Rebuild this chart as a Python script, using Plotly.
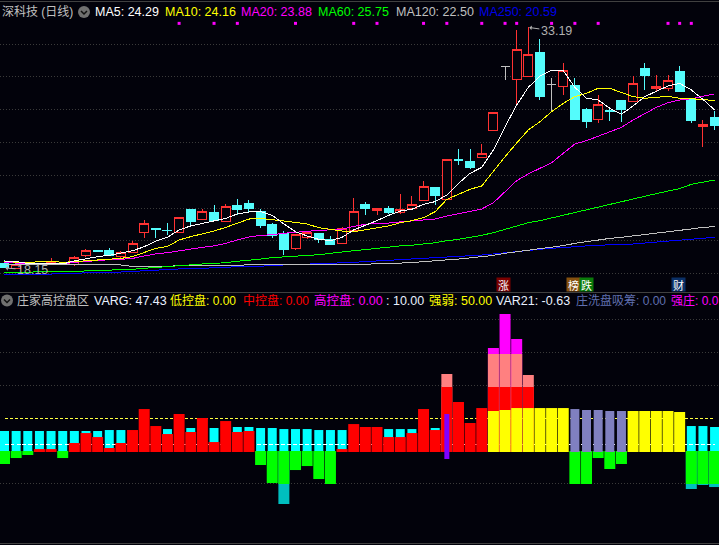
import plotly.graph_objects as go

# 画面尺寸
W = 719
H = 545
BG = '#02020b'

# ---------- 主图 K 线 ----------
OPEN = [18.46, 18.12, 18.40, 18.40, 18.46, 18.34, 18.38, 18.92, 19.25, 19.27, 18.86, 19.13, 20.38, 20.60, 20.52,
        20.36, 21.82, 21.17, 21.65, 21.05, 22.03, 22.21, 21.71, 20.84, 20.28, 19.36, 20.07, 20.28, 19.94, 19.71,
        20.48, 22.15, 21.73, 21.90, 21.65, 21.84, 22.40, 23.21, 22.46, 24.94, 24.78, 25.04, 26.73, 30.73, 29.94,
        30.11, 31.59, 29.59, 29.48, 29.53, 28.03, 27.44, 28.01, 28.59, 28.57, 30.59, 29.36, 29.36, 30.46, 28.67,
        26.98, 27.53]
HIGH = [18.65, 18.40, 18.52, 18.46, 18.78, 18.46, 18.90, 19.34, 19.27, 19.38, 19.21, 19.86, 21.15, 20.60, 20.98,
        21.32, 21.82, 21.84, 22.09, 22.15, 22.46, 22.40, 21.84, 20.96, 20.46, 20.30, 20.42, 20.34, 20.15, 20.69,
        22.53, 22.28, 21.88, 22.03, 22.78, 22.65, 23.59, 23.21, 24.96, 25.57, 25.57, 25.90, 27.88, 30.73, 33.03,
        33.19, 32.44, 30.01, 30.94, 30.01, 28.15, 28.94, 28.19, 28.59, 30.15, 30.96, 30.21, 30.21, 30.78, 28.76,
        27.40, 27.96]
LOW = [18.15, 18.10, 18.34, 18.40, 18.46, 18.34, 18.30, 18.86, 19.13, 18.90, 18.80, 19.07, 20.04, 20.04, 20.21,
       20.36, 20.73, 21.15, 21.07, 21.03, 21.44, 21.61, 20.65, 20.04, 18.96, 19.30, 19.94, 19.71, 19.65, 19.65,
       20.46, 21.48, 21.46, 21.55, 21.55, 21.79, 22.34, 22.09, 22.40, 24.61, 24.34, 25.04, 26.73, 29.90, 28.28,
       30.11, 28.65, 27.92, 28.96, 27.46, 26.90, 27.23, 27.32, 27.28, 28.54, 29.28, 29.17, 29.23, 29.15, 27.21,
       25.73, 26.78]
CLOSE = [18.21, 18.40, 18.46, 18.46, 18.52, 18.46, 18.82, 19.25, 19.21, 18.94, 19.13, 19.69, 20.94, 20.56, 20.48,
         21.32, 21.05, 21.71, 21.11, 22.00, 21.78, 21.90, 20.78, 20.19, 19.28, 20.25, 20.38, 19.94, 19.65, 20.63,
         21.71, 21.84, 21.88, 21.59, 21.82, 22.15, 23.27, 22.67, 24.96, 24.84, 24.46, 25.32, 27.88, 30.73, 31.82,
         31.51, 28.90, 29.59, 30.51, 27.46, 27.28, 28.38, 27.93, 28.03, 29.69, 30.21, 29.51, 29.88, 29.21, 27.36,
         27.15, 27.03]
DAYS = list(range(len(OPEN)))

MA5 = [18.59, 18.55, 18.44, 18.44, 18.42, 18.40, 18.59, 18.73, 18.86, 18.94, 19.07, 19.23, 19.48, 19.84, 20.07,
       20.53, 20.78, 20.94, 21.09, 21.25, 21.53, 21.65, 21.67, 21.44, 20.90, 20.42, 20.15, 19.94, 19.86, 20.07,
       20.53, 20.80, 21.11, 21.44, 21.71, 21.82, 22.13, 22.30, 22.71, 23.44, 24.07, 24.44, 25.53, 26.98, 28.34,
       29.44, 30.15, 30.51, 30.48, 29.44, 28.76, 28.65, 28.13, 27.76, 28.28, 28.86, 29.17, 29.53, 29.69, 29.28,
       28.69, 28.03]
MA10 = [18.55, 18.50, 18.48, 18.55, 18.57, 18.50, 18.55, 18.59, 18.65, 18.69, 18.75, 18.86, 19.11, 19.38, 19.50,
        19.90, 20.11, 20.28, 20.46, 20.69, 20.94, 21.21, 21.25, 21.15, 21.09, 21.00, 20.90, 20.67, 20.55, 20.46,
        20.42, 20.53, 20.65, 20.78, 20.98, 21.11, 21.30, 21.67, 22.44, 22.75, 23.07, 23.28, 24.23, 25.11, 25.96,
        26.78, 27.29, 27.92, 28.44, 28.86, 29.07, 29.38, 29.38, 29.11, 28.86, 28.76, 28.84, 28.88, 28.76, 28.73,
        28.69, 28.59]
MA20 = [18.48, 18.48, 18.44, 18.42, 18.42, 18.42, 18.50, 18.57, 18.63, 18.67, 18.69, 18.75, 18.90, 19.03, 19.11,
        19.23, 19.34, 19.44, 19.53, 19.69, 19.90, 20.09, 20.19, 20.23, 20.32, 20.36, 20.44, 20.50, 20.53, 20.57,
        20.75, 20.88, 20.94, 20.96, 21.03, 21.09, 21.17, 21.21, 21.40, 21.53, 21.69, 21.84, 22.23, 22.92, 23.61,
        24.03, 24.38, 24.73, 25.32, 25.90, 26.11, 26.40, 26.67, 26.94, 27.40, 27.82, 28.19, 28.48, 28.65, 28.73,
        28.90, 29.03]
MA60 = [17.88, 17.88, 17.88, 17.90, 17.90, 17.92, 17.94, 17.96, 18.00, 18.00, 18.02, 18.07, 18.13, 18.19, 18.21,
        18.27, 18.34, 18.40, 18.44, 18.48, 18.57, 18.63, 18.71, 18.80, 18.84, 18.86, 18.92, 18.98, 19.07, 19.13,
        19.23, 19.30, 19.38, 19.46, 19.53, 19.57, 19.63, 19.73, 19.86, 19.94, 20.07, 20.19, 20.36, 20.57, 20.78,
        20.98, 21.11, 21.28, 21.46, 21.65, 21.82, 21.98, 22.15, 22.30, 22.48, 22.63, 22.80, 22.96, 23.11, 23.38,
        23.53, 23.65]
MA120 = [18.40, 18.40, 18.40, 18.40, 18.40, 18.36, 18.34, 18.34, 18.34, 18.34, 18.34, 18.25, 18.25, 18.25, 18.25,
         18.30, 18.30, 18.30, 18.30, 18.30, 18.30, 18.36, 18.36, 18.36, 18.36, 18.38, 18.38, 18.38, 18.38, 18.38,
         18.40, 18.38, 18.42, 18.44, 18.48, 18.48, 18.55, 18.59, 18.63, 18.71, 18.78, 18.84, 18.94, 19.07, 19.17,
         19.28, 19.36, 19.44, 19.55, 19.69, 19.80, 19.92, 20.00, 20.07, 20.15, 20.25, 20.34, 20.42, 20.50, 20.59,
         20.69, 20.73]
MA250 = [17.73, 17.73, 17.75, 17.75, 17.77, 17.82, 17.82, 17.82, 17.84, 17.86, 17.90, 17.94, 17.96, 18.00, 18.07,
         18.09, 18.13, 18.13, 18.17, 18.21, 18.23, 18.23, 18.25, 18.30, 18.34, 18.36, 18.38, 18.40, 18.44, 18.48,
         18.50, 18.55, 18.59, 18.61, 18.65, 18.69, 18.75, 18.78, 18.84, 18.88, 18.92, 18.96, 19.03, 19.11, 19.17,
         19.25, 19.32, 19.38, 19.44, 19.48, 19.53, 19.57, 19.59, 19.61, 19.65, 19.71, 19.77, 19.84, 19.88, 19.94,
         20.00, 20.07]

SIGNAL_DAYS = [15, 18, 20, 25, 30, 32, 36, 38, 41, 43, 44, 47, 49, 51, 57, 58, 59]
SIGNAL_PRICE = 33.44
PRICE_GRID = [32.15, 30.10, 28.05, 26.00, 23.95, 21.90, 19.85, 17.80]

# ---------- 副图 柱子, None 表示当天没有 ----------
N = None
CYAN_BAR = [30.5, 30.5, 30.5, 30.5, 30.5, 30.5, 30.5, 30.5, 30.5, 32.0, 32.0, N, N, N, 33.5,
            N, 35.1, N, 35.1, N, 36.6, 36.6, 35.1, 35.1, 33.5, 33.5, 33.5, 32.0, 32.0, 32.0,
            N, N, N, 33.5, 33.5, 33.5, N, 35.1, N, N, N, N, N, N, N,
            N, N, N, N, N, N, N, N, N, N, N, N, N, N, 38.1,
            38.1, 36.6]
GREEN_BAR = [-19.8, -10.7, -6.1, N, N, -10.7, N, N, N, N, N, N, N, N, N,
             N, N, N, N, N, N, N, -21.3, -48.8, -50.3, -29.0, -22.9, -42.7, -50.3, N,
             N, N, N, N, N, N, N, N, N, N, N, N, N, N, N,
             N, N, N, N, -50.3, -50.3, -10.7, -27.4, -19.8, N, N, N, N, N, -50.3,
             -50.3, -50.3]
TEAL_DAYS = [24, 59, 60, 61]
TEAL_BAR = [-80.8, -57.9, -51.8, -54.9]
RED_BAR = [N, N, N, 3.0, 3.0, N, 12.2, 27.4, 21.3, 4.6, 12.2, 32.0, 64.0, 38.1, 25.9,
           56.4, 29.0, 50.3, 13.7, 45.7, 29.0, 30.5, N, N, N, N, N, N, N, 3.0,
           41.1, 36.6, 36.6, 21.3, 21.3, 27.4, 64.0, 32.0, 97.6, 74.7, 42.7, 65.5, 97.6, 97.6, 97.6,
           97.6, N, N, N, N, N, N, N, N, N, N, N, N, N, N,
           N, N]
PINK_DAYS = [38, 42, 43, 44, 45]
PINK_BAR = [117.4, 147.9, 147.9, 147.9, 115.9]
MAGENTA_DAYS = [42, 43, 44]
MAGENTA_BAR = [157.0, 208.8, 170.7]
YELLOW_DAYS = [42, 43, 44, 45, 46, 47, 48, 54, 55, 56, 57, 58]
YELLOW_BAR = [61.0, 62.5, 65.5, 65.5, 65.5, 65.5, 65.5, 61.0, 61.0, 61.0, 61.0, 59.5]
SLATE_DAYS = [49, 50, 51, 52, 53]
SLATE_BAR = [64.0, 62.5, 62.5, 61.0, 61.0]
PURPLE_DAY = [38]
PURPLE_TOP = [56.4]
PURPLE_BOTTOM = -12.2
BAR_FLOOR = -1.5
LEVEL_STRONG = 50
LEVEL_TEN = 10
LOWER_GRID = [200, 150, 100, -50]

# 顶部指标文字: 文字, 左边 x, 颜色, 字号
TOP_LABELS = [
    ('深科技 (日线)', 0, '#c0c0c0', 12),
    ('MA5: 24.29', 93, '#ffffff', 12.5),
    ('MA10: 24.16', 163, '#ffff00', 12.5),
    ('MA20: 23.88', 239, '#ff00ff', 12.5),
    ('MA60: 25.75', 316, '#00ff00', 12.5),
    ('MA120: 22.50', 394, '#c0c0c0', 12.5),
    ('MA250: 20.59', 477, '#0000e6', 12.5),
]
LOWER_LABELS = [
    ('庄家高控盘区', 15, '#c0c0c0', 12),
    ('VARG: 47.43', 92, '#e8f0ff', 12.5),
    ('低控盘: 0.00', 168, '#ffff00', 12),
    ('中控盘: 0.00', 241, '#ff0000', 12),
    ('高控盘: 0.00', 312, '#ff00ff', 12.5),
    (': 10.00', 384, '#e8f0ff', 12.5),
    ('强弱: 50.00', 427, '#ffff00', 12.5),
    ('VAR21: -0.63', 494, '#e8f0ff', 12.5),
    ('庄洗盘吸筹: 0.00', 574, '#6070b0', 12),
    ('强庄: 0.0', 669, '#ff00ff', 12),
]
# 底部消息小方块: 文字, 中心 x, 底色
TAGS = [
    ('涨', 503.7, '#7a0000'),
    ('榜', 573.5, '#85500f'),
    ('跌', 586.0, '#0a7a0a'),
    ('财', 678.5, '#0a2f66'),
]

RED = '#ff3232'
CYAN = '#54fcfc'
GREY = '#c0c0c0'
FONT = 'Liberation Sans, Noto Sans CJK SC'


def px(x):
    return x / W


def py(y):
    return 1 - y / H


def addCandles(fig, days, color, fill):
    fig.add_trace(go.Candlestick(
        x=days,
        open=[OPEN[d] for d in days],
        high=[HIGH[d] for d in days],
        low=[LOW[d] for d in days],
        close=[CLOSE[d] for d in days],
        increasing=dict(line=dict(color=color, width=1), fillcolor=fill),
        decreasing=dict(line=dict(color=color, width=1), fillcolor=fill),
        whiskerwidth=0,
        hoverinfo='skip',
    ))


def addBar(fig, days, values, color, width, base=None):
    # base 不为空时, 柱子从 base 画到 values
    if base is None:
        heights = values
    else:
        heights = [None if v is None else v - base for v in values]
    fig.add_trace(go.Bar(x=days, y=heights, base=base, width=width, marker=dict(color=color, line=dict(width=0)),
                         xaxis='x2', yaxis='y3', hoverinfo='skip'))


def addChevron(shapes, cx, cy):
    shapes.append(dict(type='circle', xref='paper', yref='paper', x0=px(cx - 6), x1=px(cx + 6), y0=py(cy + 6),
                       y1=py(cy - 6), fillcolor='#707070', line=dict(width=0)))
    path = f'M {px(cx - 3)} {py(cy - 1)} L {px(cx)} {py(cy + 2)} L {px(cx + 3)} {py(cy - 1)}'
    shapes.append(dict(type='path', xref='paper', yref='paper', path=path, line=dict(color='#101010', width=1.5)))


fig = go.Figure()

# K 线分三种颜色
up_days = [d for d in DAYS if CLOSE[d] > OPEN[d]]
down_days = [d for d in DAYS if CLOSE[d] < OPEN[d]]
flat_days = [d for d in DAYS if CLOSE[d] == OPEN[d]]
addCandles(fig, up_days, RED, BG)
addCandles(fig, down_days, CYAN, CYAN)
addCandles(fig, flat_days, GREY, GREY)

for values, color in [(MA250, '#0000ff'), (MA120, '#c0c0c0'), (MA60, '#00ff00'),
                      (MA20, '#ff00ff'), (MA10, '#ffff00'), (MA5, '#ffffff')]:
    fig.add_trace(go.Scatter(x=DAYS, y=values, mode='lines', line=dict(color=color, width=1), hoverinfo='skip'))

fig.add_trace(go.Scatter(x=SIGNAL_DAYS, y=[SIGNAL_PRICE] * len(SIGNAL_DAYS), mode='markers',
                         marker=dict(symbol='square', size=3, color='#ff00ff', line=dict(width=0)), hoverinfo='skip'))

# 副图底层: 青色柱和两条虚线, 上层的柱子会盖住虚线
fig.add_trace(go.Bar(x=DAYS, y=CYAN_BAR, width=0.773, marker=dict(color='#00ffff', line=dict(width=0)),
                     xaxis='x2', yaxis='y2', hoverinfo='skip'))
fig.add_trace(go.Scatter(x=DAYS, y=[LEVEL_STRONG] * len(DAYS), mode='lines', xaxis='x2', yaxis='y2',
                         line=dict(color='#ffff40', width=1, dash='3px,2px'), hoverinfo='skip'))
fig.add_trace(go.Scatter(x=DAYS, y=[LEVEL_TEN] * len(DAYS), mode='lines', xaxis='x2', yaxis='y2',
                         line=dict(color='#ffffff', width=1, dash='4px,2px'), hoverinfo='skip'))

addBar(fig, TEAL_DAYS, TEAL_BAR, '#00bfbf', 0.945)
addBar(fig, DAYS, GREEN_BAR, '#00ff00', 0.945)
addBar(fig, MAGENTA_DAYS, MAGENTA_BAR, '#ff00ff', 0.945, BAR_FLOOR)
addBar(fig, PINK_DAYS, PINK_BAR, '#ff8080', 0.945, BAR_FLOOR)
addBar(fig, DAYS, RED_BAR, '#ff0000', 0.945, BAR_FLOOR)
addBar(fig, YELLOW_DAYS, YELLOW_BAR, '#ffff00', 0.945, BAR_FLOOR)
addBar(fig, SLATE_DAYS, SLATE_BAR, '#8080c0', 0.773, BAR_FLOOR)
addBar(fig, PURPLE_DAY, PURPLE_TOP, '#8000ff', 0.43, PURPLE_BOTTOM)

annotations = []
for text, x, color, size in TOP_LABELS:
    annotations.append(dict(text=text, x=px(x), y=py(11.5), xref='paper', yref='paper', xanchor='left',
                            yanchor='middle', showarrow=False, font=dict(family=FONT, size=size, color=color)))
for text, x, color, size in LOWER_LABELS:
    annotations.append(dict(text=text, x=px(x), y=py(300.5), xref='paper', yref='paper', xanchor='left',
                            yanchor='middle', showarrow=False, font=dict(family=FONT, size=size, color=color)))
for text, x, color in TAGS:
    annotations.append(dict(text=text, x=px(x), y=py(284.7), xref='paper', yref='paper', xanchor='center',
                            yanchor='middle', showarrow=False, bgcolor=color, width=13, height=13, borderpad=0,
                            font=dict(family='Noto Sans CJK SC', size=11, color='#ffffff')))
# 最高价, 最低价标注
annotations.append(dict(text='33.19', x=45, y=max(HIGH), xref='x', yref='y', ax=28, ay=4, arrowcolor='#b0b0b0',
                        arrowwidth=1, arrowhead=1, arrowsize=0.8, standoff=1,
                        font=dict(family=FONT, size=12.5, color='#b0b0b0')))
annotations.append(dict(text='18.15', x=0, y=LOW[0], xref='x', yref='y', ax=28, ay=2, arrowcolor='#b0b0b0',
                        arrowwidth=1, arrowhead=1, arrowsize=0.8, standoff=1,
                        font=dict(family=FONT, size=12.5, color='#b0b0b0')))

shapes = []
addChevron(shapes, 84, 12)
addChevron(shapes, 7, 300.5)

x_range = [-0.387, 61.38]
lower_range = [-140.2, 242.4]
GRID = dict(showgrid=True, gridcolor='#3a3a3a', griddash='1px,2px', gridwidth=1, zeroline=False,
            showticklabels=False, ticks='')
fig.update_layout(
    width=W, height=H, autosize=False,
    margin=dict(l=0, r=0, t=0, b=0, pad=0),
    paper_bgcolor=BG, plot_bgcolor=BG,
    showlegend=False,
    barmode='overlay',
    boxmode='overlay',
    boxgap=0.23,
    boxgroupgap=0,
    annotations=annotations,
    shapes=shapes,
    xaxis=dict(domain=[0, 1], range=x_range, anchor='y', showgrid=False, zeroline=False, showticklabels=False,
               ticks='', rangeslider=dict(visible=False), showline=True, linecolor='#404040', mirror=True),
    yaxis=dict(domain=[py(292), py(2)], range=[16.65, 34.775], anchor='x', tickvals=PRICE_GRID, **GRID),
    xaxis2=dict(domain=[0, 1], range=x_range, anchor='y2', showgrid=False, zeroline=False, showticklabels=False,
                ticks='', showline=True, linecolor='#404040'),
    yaxis2=dict(domain=[py(543), py(292)], range=lower_range, anchor='x2', tickvals=LOWER_GRID, **GRID),
    yaxis3=dict(domain=[py(543), py(292)], range=lower_range, anchor='x2', overlaying='y2', visible=False),
)

# 去掉 body 边距, 线条不做抗锯齿, 和行情软件的 1px 线一样
post = """document.body.style.margin='0';
document.querySelectorAll('.js-line, .boxes path').forEach(function(p){p.style.shapeRendering='crispEdges';});"""
fig.write_html('out.html', config={'displayModeBar': False}, post_script=post)
